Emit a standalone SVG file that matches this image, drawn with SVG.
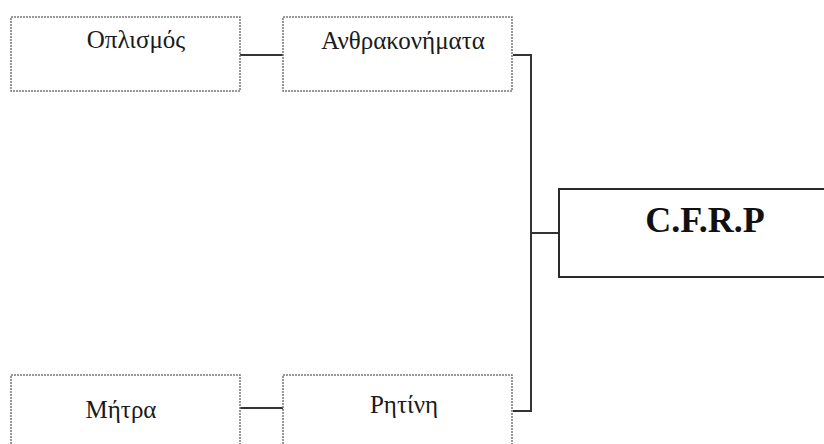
<svg xmlns="http://www.w3.org/2000/svg" width="824" height="444" viewBox="0 0 824 444">
<style>
.box{fill:#fff;stroke:#777;stroke-width:1.5;stroke-dasharray:2 1}
.lbl{font-family:"Liberation Serif","Times New Roman","DejaVu Serif",serif;font-size:25px;fill:#1a1a1a;text-anchor:middle}
.main{fill:#fff;stroke:#2a2a2a;stroke-width:2}
.big{font-family:"Liberation Serif","DejaVu Serif",serif;font-size:36px;font-weight:bold;fill:#111;text-anchor:middle}
.ln{fill:none;stroke:#333;stroke-width:2}
</style>
<rect width="824" height="444" fill="#fff"/>
<g id="connectors">
<line class="ln" x1="240" y1="55" x2="283" y2="55"/>
<line class="ln" x1="240" y1="408" x2="283" y2="408"/>
<polyline class="ln" points="513,55 531,55 531,411 513,411"/>
<line class="ln" x1="531" y1="233" x2="559" y2="233"/>
</g>
<g id="oplismos">
<rect class="box" x="11" y="17" width="229" height="74"/>
<text class="lbl" x="136" y="48">Οπλισμός</text>
</g>
<g id="anthrakonimata">
<rect class="box" x="283" y="17" width="229" height="74"/>
<text class="lbl" x="403" y="49">Ανθρακονήματα</text>
</g>
<g id="mitra">
<rect class="box" x="11" y="375" width="229" height="80"/>
<text class="lbl" x="121" y="418">Μήτρα</text>
</g>
<g id="ritini">
<rect class="box" x="283" y="375" width="229" height="80"/>
<text class="lbl" x="404" y="413">Ρητίνη</text>
</g>
<g id="cfrp">
<rect class="main" x="559" y="189" width="280" height="88"/>
<text class="big" x="705" y="232">C.F.R.P</text>
</g>
</svg>
